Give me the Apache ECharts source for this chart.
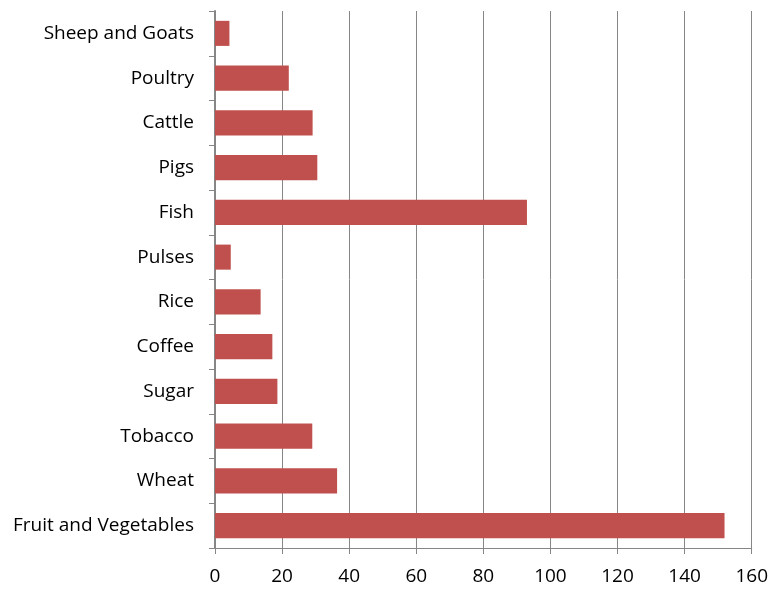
<!DOCTYPE html>
<html>
<head>
<meta charset="utf-8">
<script src="https://cdn.jsdelivr.net/npm/echarts@6/dist/echarts.min.js"></script>
<style>
  html, body { margin: 0; padding: 0; background: #fff; }
  #chart { width: 771px; height: 591px; }
</style>
</head>
<body>
<div id="chart"></div>
<script>
// Categories listed bottom-to-top (category axis on y starts at the bottom)
const categories = [
  'Fruit and Vegetables', 'Wheat', 'Tobacco', 'Sugar', 'Coffee', 'Rice',
  'Pulses', 'Fish', 'Pigs', 'Cattle', 'Poultry', 'Sheep and Goats'
];
const values = [151.9, 36.4, 29.0, 18.6, 17.1, 13.6, 4.7, 93.0, 30.5, 29.1, 22.0, 4.3];
const xTicks = [0, 20, 40, 60, 80, 100, 120, 140, 160];

const chart = echarts.init(document.getElementById('chart'));
const axisGray = '#868686';
const labelFont = { fontFamily: 'Open Sans', fontSize: 19, color: '#000' };

chart.setOption({
  animation: false,
  grid: { left: 215, right: 19, top: 11, bottom: 43, containLabel: false },
  xAxis: {
    type: 'value',
    min: xTicks[0],
    max: xTicks[xTicks.length - 1],
    interval: xTicks[1] - xTicks[0],
    axisLine: { show: true, lineStyle: { color: axisGray, width: 1 } },
    axisTick: { show: true, length: 6, lineStyle: { color: axisGray } },
    splitLine: { show: true, lineStyle: { color: axisGray, width: 1 } },
    axisLabel: Object.assign({ margin: 19 }, labelFont)
  },
  yAxis: {
    type: 'category',
    data: categories,
    axisLine: { show: true, lineStyle: { color: axisGray, width: 2 } },
    axisTick: { show: true, length: 6, alignWithLabel: false, lineStyle: { color: axisGray, width: 1 } },
    axisLabel: Object.assign({ margin: 21, padding: [4, 0, 0, 0] }, labelFont),
    splitLine: { show: false }
  },
  series: [{
    type: 'bar',
    data: values,
    barCategoryGap: '44%',
    itemStyle: { color: '#C0504D' }
  }]
});
</script>
</body>
</html>
